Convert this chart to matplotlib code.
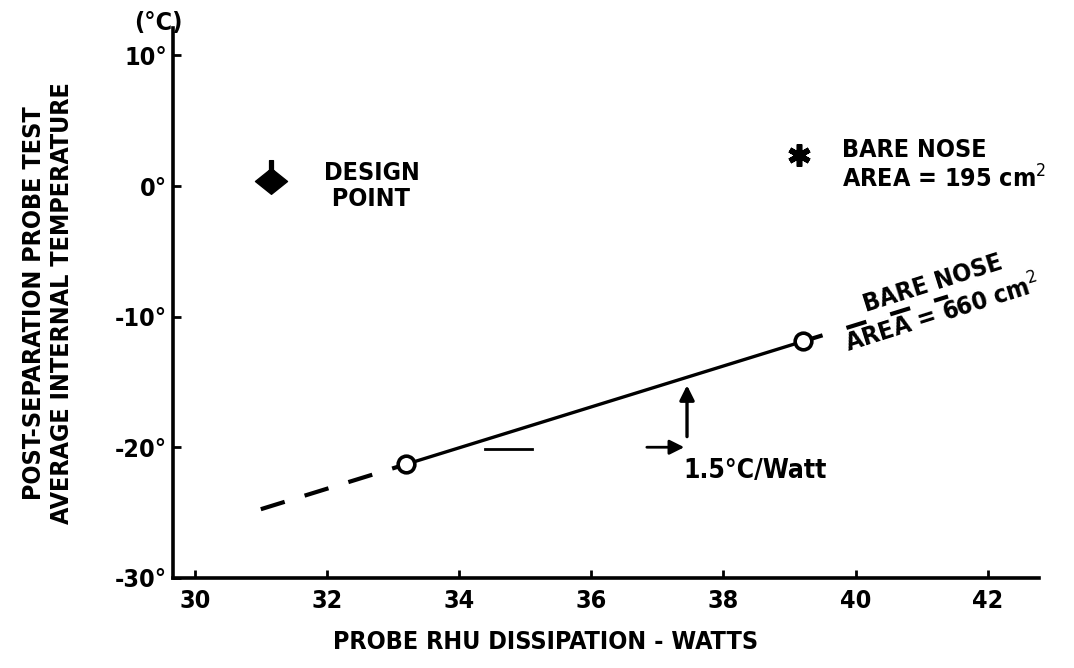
import numpy as np
import matplotlib
matplotlib.use("Agg")
import matplotlib.pyplot as plt
from matplotlib.path import Path

plt.rcParams['font.family'] = ['DejaVu Sans']
plt.rcParams['font.stretch'] = 'condensed'

# test points, 660 cm^2 bare nose
watts = [33.2, 39.2]
temps = [-21.3, -11.9]
# dashed extrapolation of the same line
ext_low = [31.0, 33.2]
ext_high = [39.2, 41.4]

design_w, design_t = 31.15, 0.4
nose195_w, nose195_t = 39.15, 2.4

xticks = [30, 32, 34, 36, 38, 40, 42]
yticks = [10, 0, -10, -20, -30]
ylabels = ['10°', '0°', '-10°', '-20°', '-30°']

slope = (temps[1] - temps[0]) / (watts[1] - watts[0])
def line_t(w):
    return temps[0] + slope * (np.asarray(w) - watts[0])

fig = plt.figure(figsize=(10.74, 6.68), dpi=100)
ax = fig.add_axes([0.161, 0.135, 0.806, 0.823])
ax.set_xlim(29.67, 42.77)
ax.set_ylim(-30, 12.1)

for s in ['top', 'right']:
    ax.spines[s].set_visible(False)
for s in ['left', 'bottom']:
    ax.spines[s].set_linewidth(2.6)

fs = 18
ax.set_xticks(xticks)
ax.set_xticklabels([str(x) for x in xticks], fontsize=fs, fontweight='bold')
ax.set_yticks(yticks)
ax.set_yticklabels(ylabels, fontsize=fs, fontweight='bold')
ax.tick_params(direction='in', length=6, width=2, pad=4)
ax.tick_params(axis='x', pad=8)

ax.set_xlabel('PROBE RHU DISSIPATION - WATTS', fontsize=fs, fontweight='bold')
ax.xaxis.set_label_coords(0.43, -0.095)
ax.set_ylabel('POST-SEPARATION PROBE TEST\nAVERAGE INTERNAL TEMPERATURE',
              fontsize=fs, fontweight='bold', labelpad=30, linespacing=1.2)
ax.text(29.45, 12.5, '(°C)', fontsize=fs, fontweight='bold', ha='center', va='center',
        clip_on=False)

# fitted line, solid between the tests, dashed outside
ax.plot(watts, temps, color='black', lw=2.4, zorder=3)
ax.plot(ext_low, line_t(ext_low), color='black', lw=3, dashes=(6, 5), zorder=3)
ax.plot(ext_high, line_t(ext_high), color='black', lw=3, dashes=(5, 6), zorder=1)
ax.plot(watts, temps, 'o', ms=12, mew=2.6, mfc='white', mec='black', zorder=4)

# design point symbol: diamond with a short stem on top
diamond = Path([(-1, 0), (0, -0.8), (1, 0), (0, 0.8), (-1, 0),
                (-0.12, 0.6), (0.12, 0.6), (0.12, 1.3), (-0.12, 1.3), (-0.12, 0.6)],
               [Path.MOVETO, Path.LINETO, Path.LINETO, Path.LINETO, Path.CLOSEPOLY,
                Path.MOVETO, Path.LINETO, Path.LINETO, Path.LINETO, Path.CLOSEPOLY])
ax.plot(design_w, design_t, marker=diamond, ms=30, color='black', zorder=4)
ax.text(31.95, 0.0, 'DESIGN\n POINT', fontsize=fs, fontweight='bold',
        ha='left', va='center', linespacing=1.15)

ax.plot(nose195_w, nose195_t, marker=(6, 2, 0), ms=16, mew=4, color='black', zorder=4)
ax.text(39.8, 1.6, 'BARE NOSE\nAREA = 195 cm$^2$', fontsize=fs, fontweight='bold',
        ha='left', va='center', linespacing=1.15)

ax.text(41.25, line_t(41.25), 'BARE NOSE\nAREA = 660 cm$^2$', fontsize=fs, fontweight='bold',
        ha='center', va='center', rotation=17.5, rotation_mode='anchor',
        linespacing=1.3, zorder=2)

# slope annotation
ax.plot([34.4, 35.1], [-20.1, -20.1], color='black', lw=2)
ax.annotate('', xy=(37.45, -20.0), xytext=(36.8, -20.0),
            arrowprops=dict(arrowstyle='-|>', color='black', lw=2, mutation_scale=22))
ax.annotate('', xy=(37.45, line_t(37.45) - 0.4), xytext=(37.45, -19.4),
            arrowprops=dict(arrowstyle='-|>', color='black', lw=2.4, mutation_scale=22))
ax.text(37.4, -21.8, '1.5°C/Watt', fontsize=19, fontweight='bold', ha='left', va='center')

fig.savefig('out.png', dpi=100)
